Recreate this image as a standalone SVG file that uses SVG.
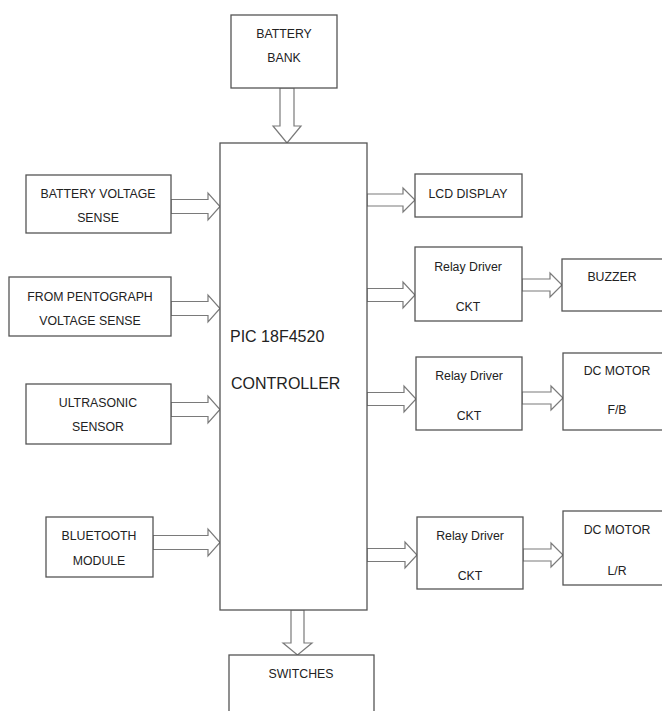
<svg xmlns="http://www.w3.org/2000/svg" width="662" height="711" viewBox="0 0 662 711">
<style>
.box{fill:#fff;stroke:#555;stroke-width:1.3}
.arr{fill:#fff;stroke:#7a7a7a;stroke-width:1.2;stroke-linejoin:miter}
text{font-family:"Liberation Sans",Arial,sans-serif;font-size:12.3px;fill:#222;text-anchor:middle}
.big{font-size:16px;text-anchor:start}
</style>
<rect width="662" height="711" fill="#fff"/>
<g id="connectors">
<path class="arr" d="M280,88 V126 H273 L287,143 L301,126 H294 V88 Z"/>
<path class="arr" d="M291,610 V643 H283 L297.5,655 L312,643 H304 V610 Z"/>
<path class="arr" d="M171,199.5 H208 V193 L220,206.5 L208,220 V213.5 H171 Z"/>
<path class="arr" d="M171,301.5 H208 V295 L220,308.5 L208,322 V315.5 H171 Z"/>
<path class="arr" d="M171,402.5 H208 V396 L220,409.5 L208,423 V416.5 H171 Z"/>
<path class="arr" d="M153,535.5 H208 V529 L220,542.5 L208,556 V549.5 H153 Z"/>
<path class="arr" d="M367,194 H403 V188 L415,200 L403,212 V206 H367 Z"/>
<path class="arr" d="M367,288.5 H403 V282 L415,295 L403,308 V301.5 H367 Z"/>
<path class="arr" d="M367,392.5 H404 V386 L416,399 L404,412 V405.5 H367 Z"/>
<path class="arr" d="M367,548.5 H405 V542 L417,555 L405,568 V561.5 H367 Z"/>
<path class="arr" d="M522,279 H550 V273 L562,285 L550,297 V291 H522 Z"/>
<path class="arr" d="M522,392 H551 V386 L563,398 L551,410 V404 H522 Z"/>
<path class="arr" d="M523,549 H551 V543 L563,555 L551,567 V561 H523 Z"/>
</g>
<g id="battery-bank"><rect class="box" x="231" y="15" width="106" height="73"/><text x="284" y="38">BATTERY</text><text x="284" y="62">BANK</text></g>
<g id="controller"><rect class="box" x="220" y="143" width="147" height="467"/><text class="big" x="230" y="342">PIC 18F4520</text><text class="big" x="231" y="389">CONTROLLER</text></g>
<g id="battery-voltage"><rect class="box" x="26" y="175" width="145" height="58"/><text x="98" y="198">BATTERY VOLTAGE</text><text x="98" y="222">SENSE</text></g>
<g id="pentograph"><rect class="box" x="9" y="277" width="162" height="59"/><text x="90" y="301">FROM PENTOGRAPH</text><text x="90" y="325">VOLTAGE SENSE</text></g>
<g id="ultrasonic"><rect class="box" x="26" y="384" width="145" height="60"/><text x="98" y="407">ULTRASONIC</text><text x="98" y="431">SENSOR</text></g>
<g id="bluetooth"><rect class="box" x="46" y="517" width="107" height="60"/><text x="99" y="540">BLUETOOTH</text><text x="99" y="565">MODULE</text></g>
<g id="lcd"><rect class="box" x="415" y="174" width="107" height="43"/><text x="468" y="198">LCD DISPLAY</text></g>
<g id="relay1"><rect class="box" x="415" y="247" width="107" height="74"/><text x="468" y="271">Relay Driver</text><text x="468" y="311">CKT</text></g>
<g id="buzzer"><rect class="box" x="562" y="259" width="105" height="52"/><text x="612" y="281">BUZZER</text></g>
<g id="relay2"><rect class="box" x="416" y="357" width="106" height="73"/><text x="469" y="380">Relay Driver</text><text x="469" y="420">CKT</text></g>
<g id="motor-fb"><rect class="box" x="563" y="353" width="104" height="77"/><text x="617" y="375">DC MOTOR</text><text x="617" y="414">F/B</text></g>
<g id="relay3"><rect class="box" x="417" y="517" width="106" height="72"/><text x="470" y="540">Relay Driver</text><text x="470" y="580">CKT</text></g>
<g id="motor-lr"><rect class="box" x="563" y="511" width="104" height="74"/><text x="617" y="534">DC MOTOR</text><text x="617" y="575">L/R</text></g>
<g id="switches"><rect class="box" x="229" y="655" width="145" height="60"/><text x="301" y="678">SWITCHES</text></g>
</svg>
